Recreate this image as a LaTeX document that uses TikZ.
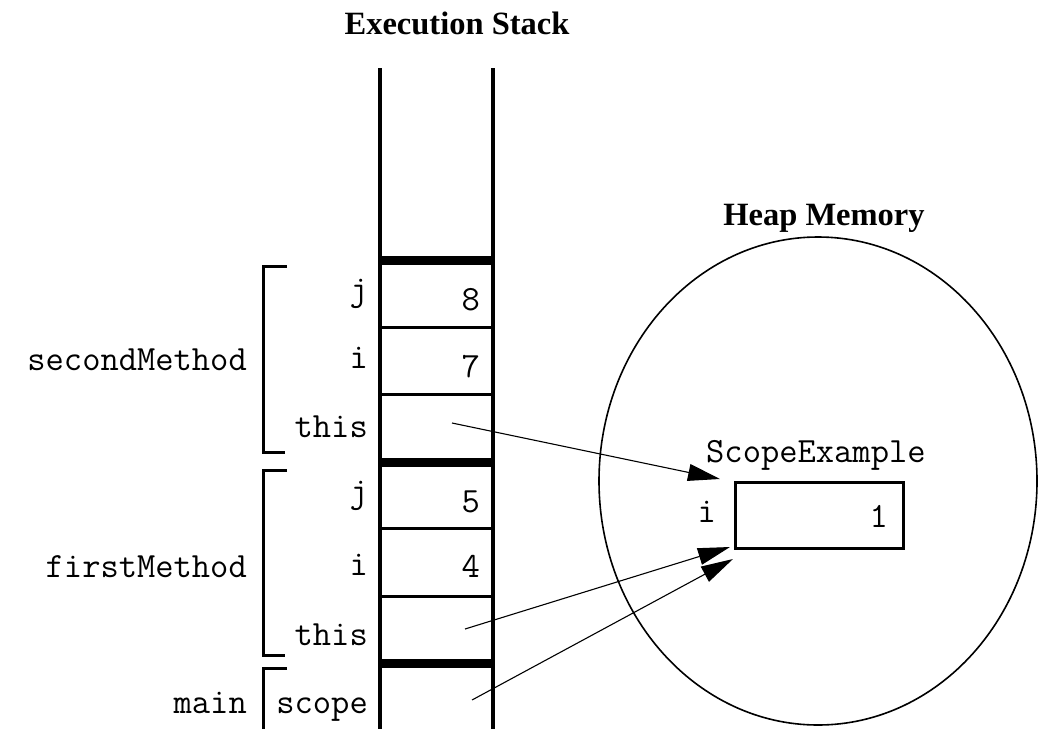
\documentclass[tikz,border=0pt]{standalone}
\usepackage{fontspec}
\setmainfont{Liberation Serif}
\usetikzlibrary{arrows.meta}
\begin{document}
\begin{tikzpicture}[x=1pt,y=-1pt,
  code/.style={font=\fontsize{35.5}{36}\selectfont\ttfamily, inner sep=0pt},
  lbl/.style={code, anchor=base east},
  val/.style={code, anchor=base east},
  title/.style={font=\fontsize{32.5}{33}\selectfont\bfseries, inner sep=0pt, anchor=base},
  wall/.style={line width=3.5pt},
  thin/.style={line width=3pt},
  thick/.style={line width=9pt},
  brk/.style={line width=3pt},
  ref/.style={line width=1.1pt, -{Triangle[length=32pt,width=17pt]}, shorten >=0pt}
]
\useasboundingbox (0,0) rectangle (1040,728);
% titles
\node[title] (tstack) at (457,34) {Execution Stack};
\node[title] (theap) at (824,225) {Heap Memory};
% stack walls
\draw[wall] (380,68) -- (380,732);
\draw[wall] (493,68) -- (493,732);
% frame separators
\draw[thick] (380,260) -- (493,260);
\draw[thick] (380,462) -- (493,462);
\draw[thick] (380,663) -- (493,663);
\draw[thin] (380,327) -- (493,327);
\draw[thin] (380,394) -- (493,394);
\draw[thin] (380,528) -- (493,528);
\draw[thin] (380,596) -- (493,596);
% brackets
\draw[brk] (287,266) -- (263,266) -- (263,452) -- (285,452);
\draw[brk] (287,470) -- (263,470) -- (263,655) -- (285,655);
\draw[brk] (287,668) -- (263,668) -- (263,732);
% frame names
\node[lbl] (nsecond) at (247,370) {secondMethod};
\node[lbl] (nfirst) at (247,577) {firstMethod};
\node[lbl] (nmain) at (247,713) {main};
% variable labels
\node[lbl] (lj2) at (368,300) {j};
\node[lbl] (li2) at (368,368) {i};
\node[lbl] (lt2) at (368,437) {this};
\node[lbl] (lj1) at (368,502) {j};
\node[lbl] (li1) at (368,575) {i};
\node[lbl] (lt1) at (368,645) {this};
\node[lbl] (ls0) at (368,713) {scope};
% values
\node[val] (v8) at (480,310) {8};
\node[val] (v7) at (480,377) {7};
\node[val] (v5) at (480,512) {5};
\node[val] (v4) at (480,577) {4};
% heap
\draw[line width=1.6pt] (818,481) ellipse [x radius=219, y radius=244];
\node[code, anchor=base west] (cls) at (706,462) {ScopeExample};
\node[draw, line width=3pt, minimum width=168pt, minimum height=66pt, inner sep=0pt] (obj) at (819,515) {};
\node[lbl] (fi) at (716,522) {i};
\node[val] (f1) at (888,527) {1};
% references
\coordinate (s2) at (452,423);
\coordinate (s1) at (465,629);
\coordinate (s0) at (472,700);
\coordinate (e2) at (720,479);
\coordinate (e1) at (730,547);
\coordinate (e0) at (733,559);
\draw[ref] (s2) -- (e2);
\draw[ref] (s1) -- (e1);
\draw[ref] (s0) -- (e0);
\end{tikzpicture}
\end{document}
